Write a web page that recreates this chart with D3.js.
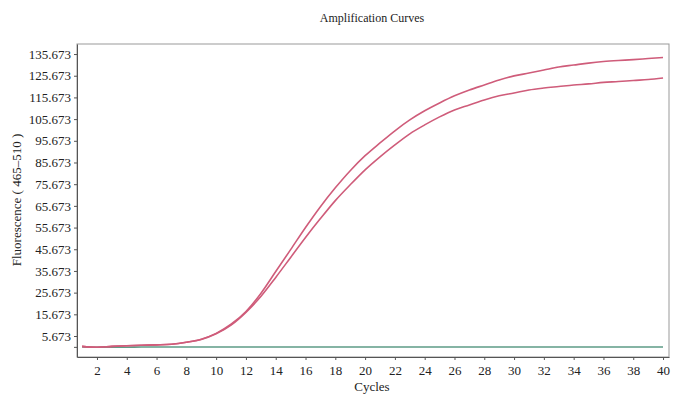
<!DOCTYPE html>
<html>
<head>
<meta charset="utf-8">
<script src="https://cdn.jsdelivr.net/npm/d3@7"></script>
<style>
  body { margin: 0; background: #fff; }
  svg text { font-family: "Liberation Serif", "DejaVu Serif", serif; fill: #222; }
  .axis path, .axis line { stroke: #555; }
</style>
</head>
<body>
<div id="chart"></div>
<script>
// values, one per cycle 1..40
var cycles = d3.range(1, 41);
var sampleA = [0.9, 0.5, 0.9, 1.2, 1.4, 1.6, 1.9, 2.8, 4.2, 6.9,
  11.1, 17.0, 25.3, 35.4, 45.5, 55.7, 65.3, 74.0, 81.9, 88.8,
  94.7, 100.3, 105.3, 109.5, 113.1, 116.4, 119.1, 121.4, 123.7, 125.6,
  126.9, 128.3, 129.7, 130.6, 131.5, 132.2, 132.7, 133.1, 133.6, 134.1];
var sampleB = [0.9, 0.5, 0.9, 1.2, 1.4, 1.6, 1.9, 2.8, 4.1, 6.7,
  10.7, 16.6, 23.9, 32.7, 41.9, 51.1, 59.8, 68.1, 75.4, 82.3,
  88.3, 93.8, 98.9, 103.0, 106.7, 109.9, 112.2, 114.5, 116.4, 117.7,
  119.1, 120.0, 120.7, 121.4, 121.9, 122.6, 123.0, 123.5, 123.9, 124.6];
var negative = [0.6, 0.5, 0.5, 0.5, 0.6, 0.6, 0.6, 0.6, 0.6, 0.6,
  0.6, 0.6, 0.6, 0.6, 0.6, 0.6, 0.6, 0.6, 0.6, 0.6,
  0.6, 0.6, 0.6, 0.6, 0.6, 0.6, 0.6, 0.6, 0.6, 0.6,
  0.6, 0.6, 0.6, 0.6, 0.6, 0.6, 0.6, 0.6, 0.6, 0.6];
var yTicks = [0.673, 5.673, 15.673, 25.673, 35.673, 45.673, 55.673, 65.673,
  75.673, 85.673, 95.673, 105.673, 115.673, 125.673, 135.673];
var xTicks = d3.range(2, 41, 2);

var width = 675;
var height = 396;
var margin = {top: 44, right: 6, bottom: 39, left: 77};
var w = width - margin.left - margin.right;
var h = height - margin.top - margin.bottom;

var series = [
  {name: "A", values: sampleA, color: "#cf5c7a"},
  {name: "B", values: sampleB, color: "#cf5c7a"},
  {name: "NTC", values: negative, color: "#5e9c86"}
];

var xScale = d3.scaleLinear().domain([0.66, 40.4]).range([0, w]);
var yScale = d3.scaleLinear().domain([-4.0, 140.3]).range([h, 0]);

var svg = d3.select("#chart").append("svg")
  .attr("width", width)
  .attr("height", height);

svg.append("text")
  .attr("x", 372)
  .attr("y", 22)
  .attr("text-anchor", "middle")
  .style("font-size", "12px")
  .text("Amplification Curves");

var g = svg.append("g")
  .attr("transform", `translate(${margin.left}, ${margin.top})`);

// frame
g.append("rect")
  .attr("width", w)
  .attr("height", h)
  .attr("fill", "none")
  .attr("stroke", "#999");

var line = d3.line()
  .x((d, i) => xScale(cycles[i]))
  .y(d => yScale(d))
  .curve(d3.curveMonotoneX);

g.selectAll(".line")
  .data(series.slice().reverse()).enter()
  .append("path")
  .attr("class", "line")
  .attr("d", d => line(d.values))
  .attr("fill", "none")
  .attr("stroke", d => d.color)
  .attr("stroke-width", 1.6);

var xAxis = d3.axisBottom(xScale).tickValues(xTicks).tickSize(3).tickSizeOuter(0);
var yAxis = d3.axisLeft(yScale).tickValues(yTicks).tickSize(3).tickSizeOuter(0)
  .tickFormat(d => d < 1 ? "" : d3.format(".3f")(d));

g.append("g")
  .attr("class", "x axis")
  .attr("transform", `translate(0, ${h})`)
  .call(xAxis)
  .selectAll("text")
  .style("font-size", "13px")
  .attr("dy", "0.9em");

g.append("g")
  .attr("class", "y axis")
  .call(yAxis)
  .selectAll("text")
  .style("font-size", "13px");

svg.append("text")
  .attr("x", 372)
  .attr("y", 391)
  .attr("text-anchor", "middle")
  .style("font-size", "13px")
  .text("Cycles");

svg.append("text")
  .attr("transform", "translate(21, 200) rotate(-90)")
  .attr("text-anchor", "middle")
  .style("font-size", "13px")
  .text("Fluorescence ( 465–510 )");
</script>
</body>
</html>
